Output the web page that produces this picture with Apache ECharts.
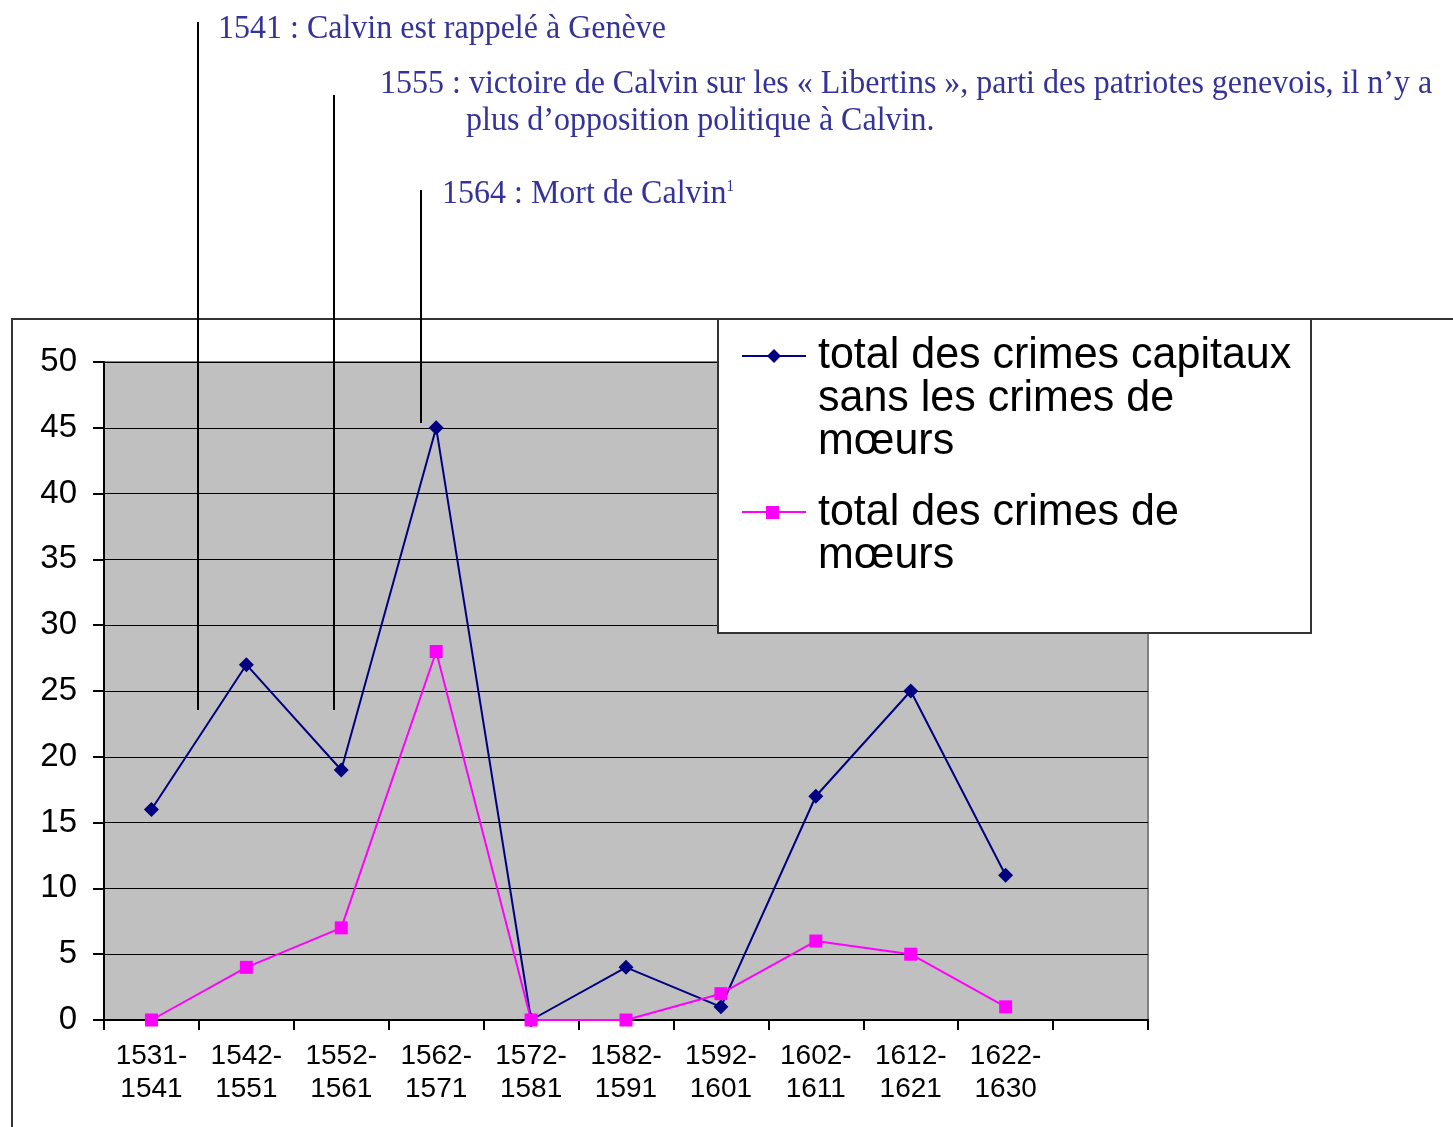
<!DOCTYPE html>
<html>
<head>
<meta charset="utf-8">
<script src="https://cdn.jsdelivr.net/npm/echarts@6/dist/echarts.min.js"></script>
<style>
  html, body { margin: 0; padding: 0; background: #fff; }
  #main { width: 1453px; height: 1127px; }
</style>
</head>
<body>
<div id="main"></div>
<script>
// periodes (la derniere colonne est vide dans l'original)
const periods = ['1531-1541', '1542-1551', '1552-1561', '1562-1571', '1572-1581',
  '1582-1591', '1592-1601', '1602-1611', '1612-1621', '1622-1630', '']
const capitaux = [16, 27, 19, 45, 0, 4, 1, 17, 25, 11]
const moeurs = [0, 4, 7, 28, 0, 0, 2, 6, 5, 1]
const seriesNames = [
  'total des crimes capitaux\nsans les crimes de\nmœurs',
  'total des crimes de\nmœurs'
]
const notes = [
  '1541 : Calvin est rappelé à Genève',
  '1555 : victoire de Calvin sur les « Libertins », parti des patriotes genevois, il n’y a',
  'plus d’opposition politique à Calvin.',
  '1564 : Mort de Calvin{sup|1}'
]

const blue = '#000080'
const pink = '#ff00ff'
const noteColor = '#333399'
const sans = '"Liberation Sans", Arial, sans-serif'
const serif = '"Liberation Serif", "Times New Roman", serif'

const chart = echarts.init(document.getElementById('main'))

function noteText(txt, x, y) {
  return {
    type: 'text', x: x, y: y, scaleY: 1.08, z: 100,
    style: {
      text: txt, fill: noteColor, fontFamily: serif, fontSize: 32,
      verticalAlign: 'middle', align: 'left',
      rich: { sup: { fontSize: 15, fill: noteColor, fontFamily: serif, padding: [0, 0, 14, 0] } }
    }
  }
}

function vline(x, y1, y2) {
  return {
    type: 'line', z: 100,
    shape: { x1: x, y1: y1, x2: x, y2: y2 },
    style: { stroke: '#000', lineWidth: 2 }
  }
}

// y = centre du bloc de texte
function legendText(txt, y) {
  return {
    type: 'text', x: 818, y: y, scaleY: 1.04, z: 101,
    style: {
      text: txt, fill: '#000', fontFamily: sans, fontSize: 43, lineHeight: 41.5,
      verticalAlign: 'middle', align: 'left'
    }
  }
}

const options = {
  animation: false,
  backgroundColor: '#fff',
  grid: {
    left: 104,
    top: 362,
    right: 305,
    bottom: 107,
    show: true,
    backgroundColor: '#c0c0c0',
    borderColor: '#808080',
    borderWidth: 2
  },
  xAxis: {
    type: 'category',
    data: periods,
    boundaryGap: true,
    axisLine: { lineStyle: { color: '#000', width: 2 } },
    axisTick: { show: true, interval: 0, length: 10, lineStyle: { color: '#000', width: 2 } },
    axisLabel: {
      interval: 0,
      margin: 20,
      color: '#000',
      fontFamily: sans,
      fontSize: 28,
      lineHeight: 33,
      formatter(val) {
        return val.replace('-', '-\n')
      }
    }
  },
  yAxis: {
    type: 'value',
    min: 0,
    max: 50,
    interval: 5,
    axisLine: { show: true, lineStyle: { color: '#000', width: 2 } },
    axisTick: { show: true, length: 11, lineStyle: { color: '#000', width: 2 } },
    axisLabel: { margin: 27, color: '#000', fontFamily: sans, fontSize: 33 },
    splitLine: { show: true, lineStyle: { color: '#000', width: 1 } }
  },
  series: [{
    name: seriesNames[0],
    type: 'line',
    data: capitaux,
    symbol: 'diamond',
    symbolSize: 15,
    itemStyle: { color: blue },
    lineStyle: { color: blue, width: 2 }
  }, {
    name: seriesNames[1],
    type: 'line',
    data: moeurs,
    symbol: 'rect',
    symbolSize: 13,
    itemStyle: { color: pink },
    lineStyle: { color: pink, width: 2 }
  }],
  graphic: [
    // cadre du graphique
    {
      type: 'rect', z: -1, silent: true,
      shape: { x: 12, y: 319, width: 1500, height: 900 },
      style: { fill: 'none', stroke: '#333', lineWidth: 2 }
    },
    // legende
    {
      type: 'rect', z: 99,
      shape: { x: 718, y: 319, width: 593, height: 314 },
      style: { fill: '#fff', stroke: '#333', lineWidth: 2 }
    },
    { type: 'line', z: 100, shape: { x1: 742, y1: 356, x2: 806, y2: 356 }, style: { stroke: blue, lineWidth: 2 } },
    { type: 'polygon', z: 100, shape: { points: [[774, 349], [781, 356], [774, 363], [767, 356]] }, style: { fill: blue } },
    legendText(seriesNames[0], 399),
    { type: 'line', z: 100, shape: { x1: 742, y1: 512, x2: 806, y2: 512 }, style: { stroke: pink, lineWidth: 2 } },
    { type: 'rect', z: 100, shape: { x: 766, y: 506, width: 13, height: 13 }, style: { fill: pink } },
    legendText(seriesNames[1], 534),
    // annotations
    vline(198, 22, 710),
    vline(334, 95, 710),
    vline(421, 190, 423),
    noteText(notes[0], 218, 29),
    noteText(notes[1], 380, 84),
    noteText(notes[2], 466, 121),
    noteText(notes[3], 442, 194)
  ]
}

chart.setOption(options)
window.addEventListener('resize', chart.resize)
</script>
</body>
</html>
